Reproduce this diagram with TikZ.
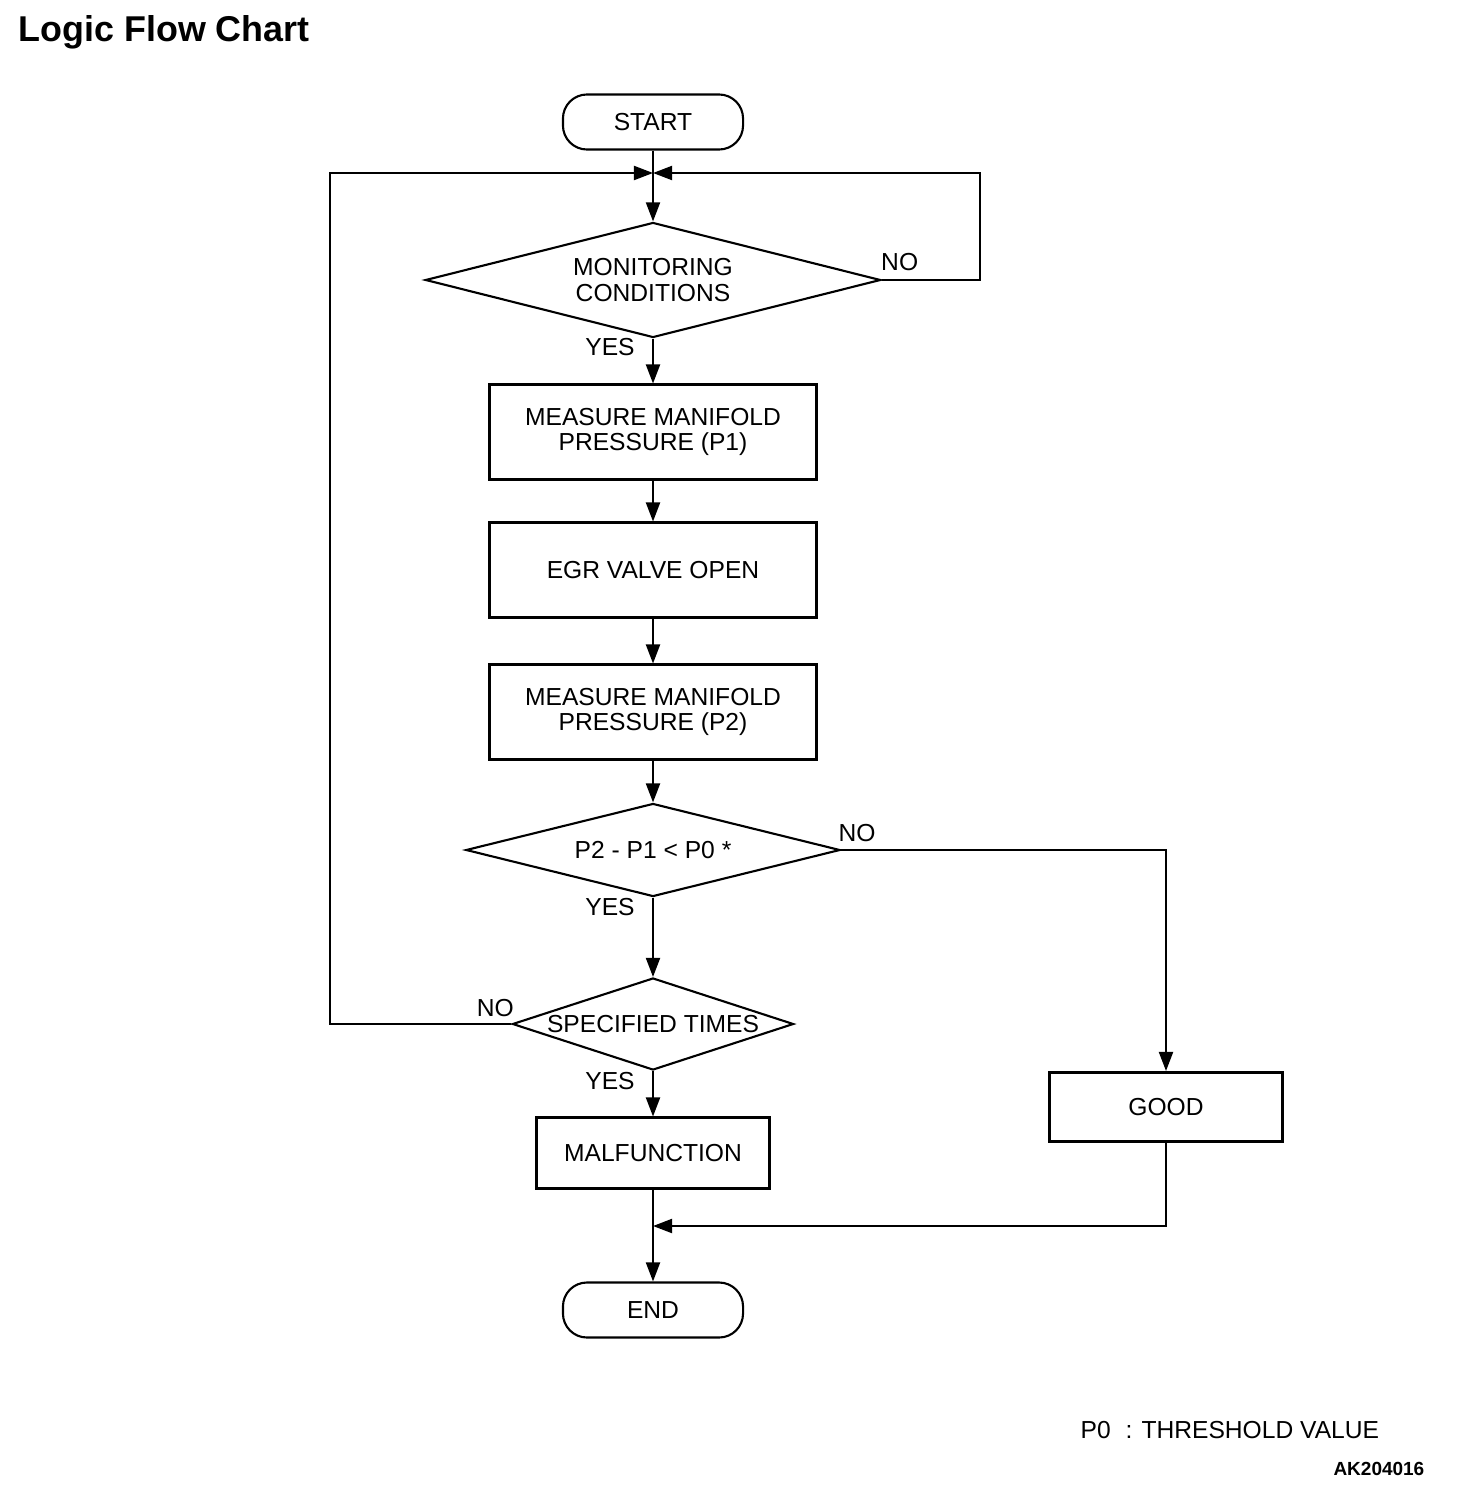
\documentclass[tikz,border=0pt]{standalone}
\usepackage{fontspec}
\setmainfont{Liberation Sans}
\usetikzlibrary{shapes.geometric,arrows.meta}

\tikzset{
 blok/.style={draw,line width=0.85pt,rectangle,minimum width=3.27cm,minimum height=0.94cm,align=center,inner sep=0pt},
 term/.style={draw,line width=0.6pt,rectangle,rounded corners=0.24cm,minimum width=1.8cm,minimum height=0.55cm,inner sep=0pt},
 romb/.style={draw,line width=0.6pt,diamond,inner sep=0pt,align=center},
 flow/.style={line width=0.55pt,-{Triangle[length=0.19cm,width=0.14cm]}},
 lin/.style={line width=0.55pt},
 otv/.style={inner sep=0pt}
}

\begin{document}
\begin{tikzpicture}[x=0.01cm,y=-0.01cm,font=\fontsize{7}{7.2}\selectfont]
\useasboundingbox (0,0) rectangle (1456,1488);
%Заголовок
\node[otv,anchor=base west,font=\fontsize{10.2}{12}\selectfont\bfseries] (title) at (18,42) {Logic Flow Chart};
%Блоки
\node[term] (start) at (653,122) {START};
\node[romb,aspect=4,minimum width=4.55cm,minimum height=1.15cm] (mon) at (653,280) {MONITORING\\CONDITIONS};
\node[blok] (p1) at (653,432) {MEASURE MANIFOLD\\PRESSURE (P1)};
\node[blok] (egr) at (653,570) {EGR VALVE OPEN};
\node[blok] (p2) at (653,712) {MEASURE MANIFOLD\\PRESSURE (P2)};
\node[romb,aspect=4,minimum width=3.74cm,minimum height=0.93cm] (diff) at (653,850) {P2 - P1 < P0 *};
\node[romb,aspect=3.05,minimum width=2.81cm,minimum height=0.92cm] (times) at (653,1024) {SPECIFIED TIMES};
\node[blok,minimum width=2.33cm,minimum height=0.7cm] (malf) at (653,1153) {MALFUNCTION};
\node[blok,minimum width=2.33cm,minimum height=0.69cm] (good) at (1166,1107) {GOOD};
\node[term] (end) at (653,1310) {END};
%Узлы линий
\coordinate (join) at (653,173);
\coordinate (lft) at (330,173);
\coordinate (rgt) at (980,173);
\coordinate (merge) at (653,1226);
%Связи
\draw[lin] (start.south) -- (join);
\draw[flow] (join) -- (mon.north);
\draw[flow] (mon.east) -| (rgt) -- (join);
\draw[flow] (times.west) -| (lft) -- (join);
\draw[flow] (mon.south) -- (p1.north);
\draw[flow] (p1.south) -- (egr.north);
\draw[flow] (egr.south) -- (p2.north);
\draw[flow] (p2.south) -- (diff.north);
\draw[flow] (diff.south) -- (times.north);
\draw[flow] (diff.east) -| (good.north);
\draw[flow] (times.south) -- (malf.north);
\draw[lin] (malf.south) -- (merge);
\draw[flow] (merge) -- (end.north);
\draw[flow] (good.south) |- (merge);
%Подписи YES/NO
\node[otv] (no1) at ([shift={(18,-18)}]mon.east) {NO};
\node[otv] (yes1) at ([shift={(-43,8)}]mon.south) {YES};
\node[otv] (no2) at ([shift={(16,-17)}]diff.east) {NO};
\node[otv] (yes2) at ([shift={(-43,9)}]diff.south) {YES};
\node[otv] (no3) at ([shift={(-16,-16)}]times.west) {NO};
\node[otv] (yes3) at ([shift={(-43,10)}]times.south) {YES};
%Примечание
\node[otv,anchor=base west] (note) at (1080,1438) {P0\hspace{0.6em}: THRESHOLD VALUE};
\node[otv,anchor=base east,font=\fontsize{5.4}{6}\selectfont\bfseries] (code) at (1425,1475) {AK204016};
\end{tikzpicture}
\end{document}
